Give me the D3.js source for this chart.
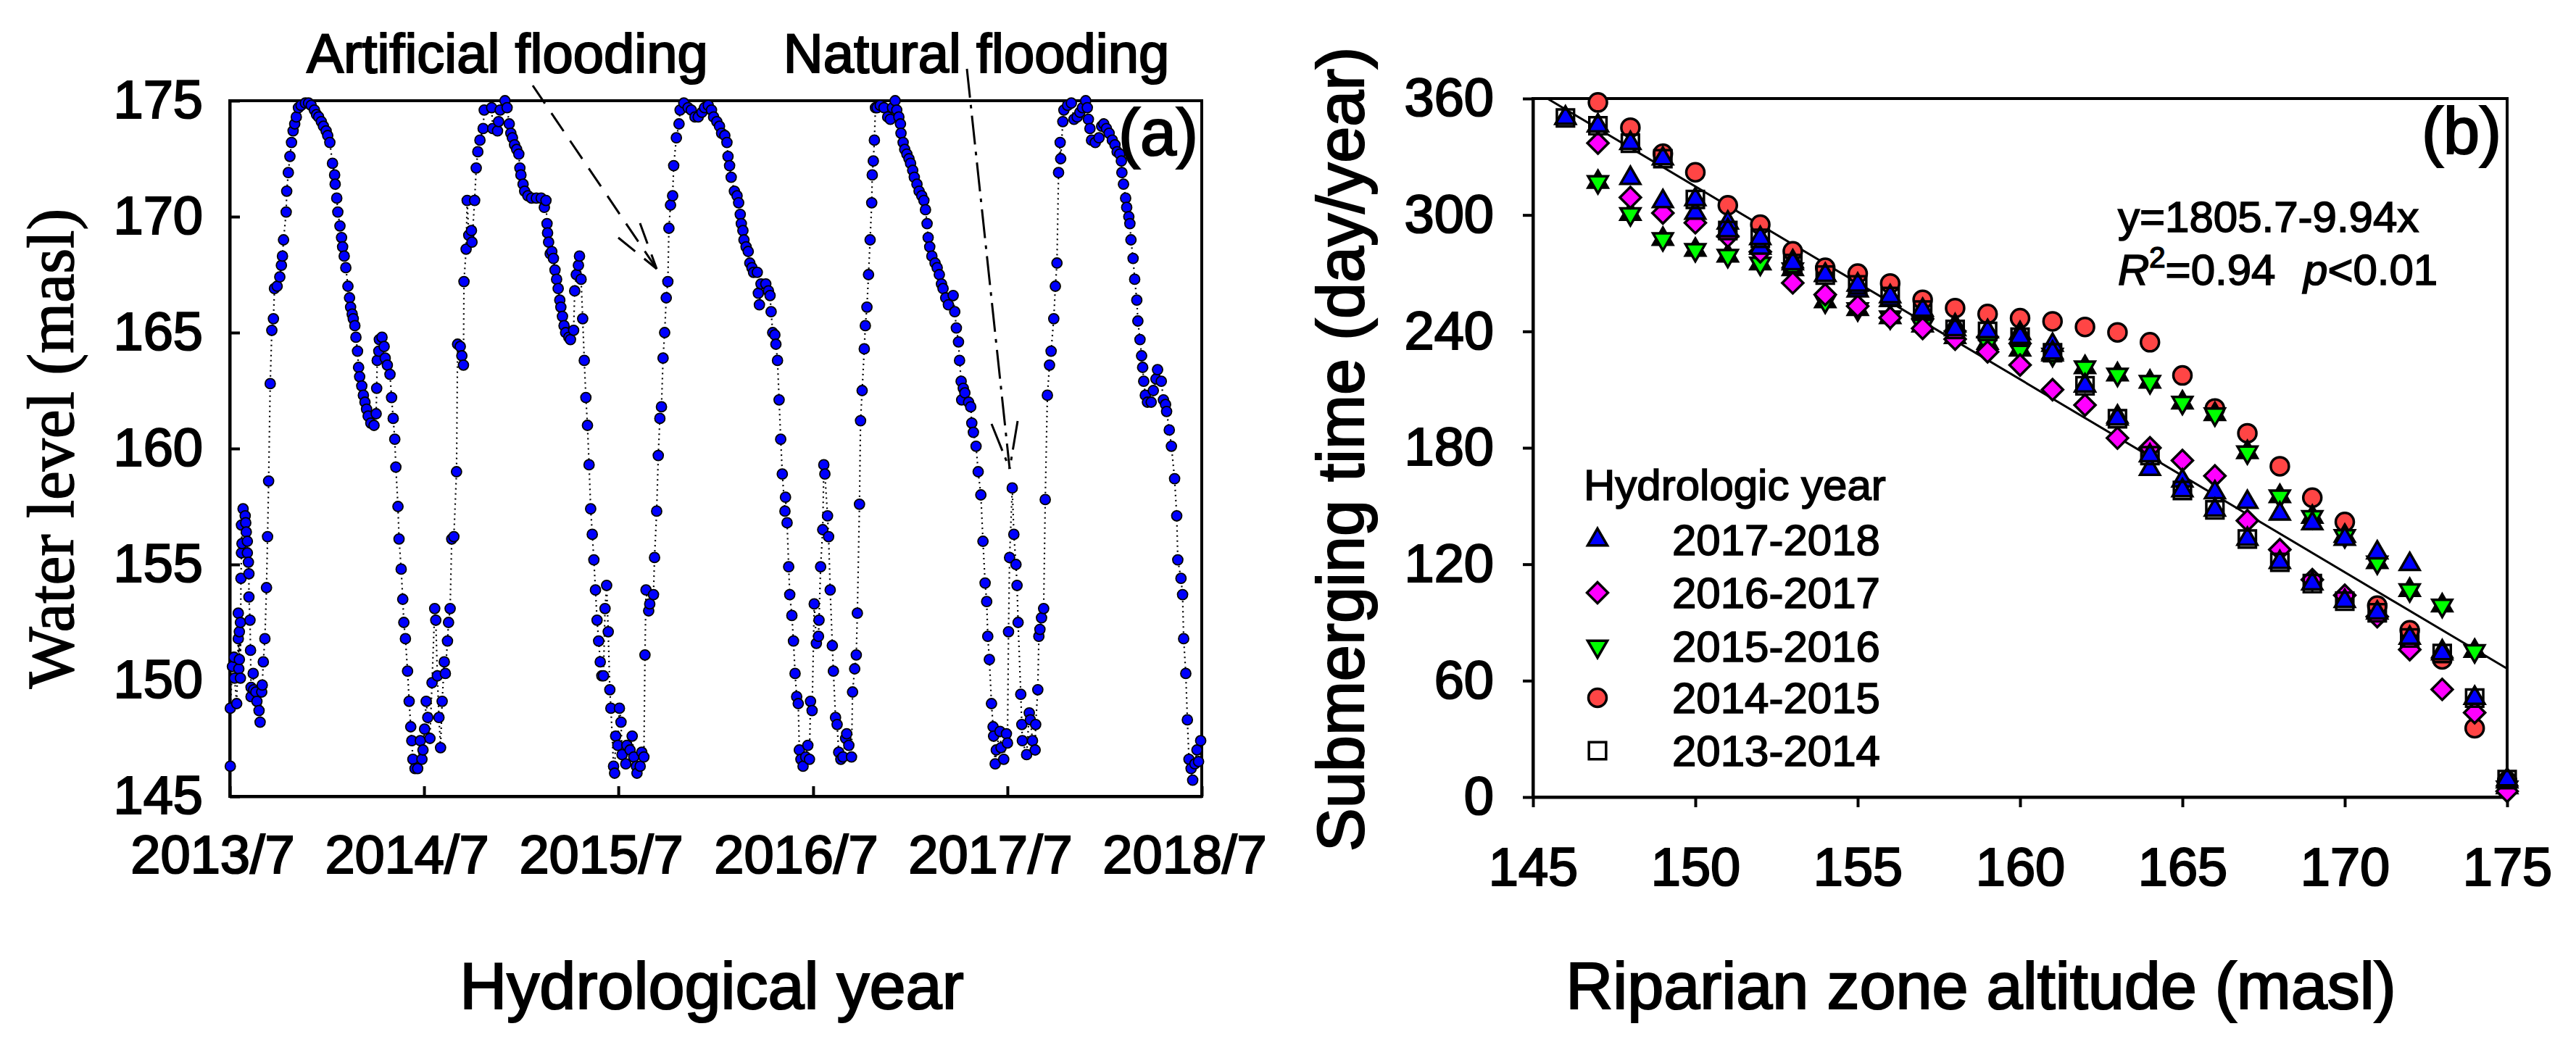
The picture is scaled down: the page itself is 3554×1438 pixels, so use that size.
<!DOCTYPE html>
<html>
<head>
<meta charset="utf-8">
<script src="https://cdn.jsdelivr.net/npm/d3@7"></script>
<style>
  body { margin: 0; background: #fff; }
  svg { display: block; }
  text { font-family: "Liberation Sans", Arial, sans-serif; fill: #000; stroke: #000; stroke-width: 2.2px; }
</style>
</head>
<body>
<svg width="3554" height="1438"></svg>
<script>
//panel (a): [days after 2013/7/1, water level (masl)]
var waterLevel = [
  [1,146.3],[1,148.8],[5,150.6],[8,151.0],[13,149.0],[9,150.1],[17,150.5],[16,151.8],[18,152.1],[16,152.9],
  [20,152.5],[18,150.9],[20,150.1],[21,154.4],[22,155.5],[23,155.9],[22,156.7],[25,157.4],[29,157.1],[30,156.8],
  [31,156.4],[33,156.0],[33,155.5],[35,155.1],[36,154.6],[36,153.6],[38,152.6],[39,151.3],[44,150.3],[40,149.7],
  [45,149.6],[40,149.3],[49,149.5],[51,149.1],[55,148.7],[57,148.2],[60,149.5],[61,149.8],[63,150.8],[66,151.8],
  [69,154.0],[71,156.2],[73,158.6],[76,162.8],[79,165.1],[82,165.6],[84,166.9],[89,167.0],[94,167.4],[97,167.9],
  [99,168.3],[101,169.0],[106,170.2],[107,171.1],[110,171.9],[113,172.6],[116,173.2],[119,173.7],[122,174.0],[125,174.3],
  [129,174.7],[134,174.8],[142,174.9],[148,174.9],[153,174.8],[159,174.6],[163,174.4],[167,174.3],[172,174.1],[176,173.9],
  [181,173.7],[184,173.5],[188,173.2],[193,172.3],[197,171.8],[198,171.4],[201,170.8],[203,170.2],[207,169.6],[210,169.1],
  [212,168.7],[215,168.3],[218,167.8],[222,167.0],[225,166.5],[227,166.1],[230,165.8],[232,165.6],[235,165.3],[237,164.8],
  [240,164.2],[242,163.5],[244,163.1],[248,162.7],[251,162.3],[254,162.0],[257,161.7],[260,161.4],[265,161.1],[271,161.0],
  [275,161.5],[276,162.6],[277,163.8],[280,164.2],[281,164.7],[286,164.8],[290,164.4],[292,163.9],[296,163.6],[301,163.2],
  [304,162.2],[307,161.3],[310,160.4],[312,159.2],[316,157.5],[318,156.1],[322,154.8],[325,153.5],[327,152.5],[330,151.8],
  [334,150.4],[337,149.1],[340,148.0],[342,147.4],[344,146.6],[348,146.2],[353,146.2],[358,147.4],[361,146.6],[363,147.0],
  [369,149.1],[372,148.4],[376,147.5],[366,147.9],[380,149.9],[385,153.1],[387,152.6],[390,150.2],[393,148.4],[396,147.1],
  [399,149.1],[403,150.8],[405,150.3],[409,151.7],[411,152.5],[414,153.1],[417,156.1],[421,156.2],[426,159.0],[428,164.5],
  [433,164.4],[436,164.0],[439,163.6],[440,167.2],[444,168.6],[449,169.2],[454,169.4],[455,168.9],[446,170.7],[460,170.7],
  [463,172.1],[466,172.8],[470,173.3],[476,173.8],[478,174.6],[492,174.7],[494,173.8],[503,173.7],[505,174.1],[508,174.6],
  [517,175.0],[521,174.7],[525,174.0],[528,173.6],[531,173.4],[535,173.1],[539,172.9],[543,172.7],[545,172.1],[547,171.8],
  [551,171.4],[554,171.1],[560,170.9],[567,170.8],[576,170.8],[585,170.8],[594,170.7],[591,170.4],[596,169.7],[597,169.3],
  [599,168.9],[602,168.4],
  [605,168.5],[608,168.2],[611,167.7],[614,167.3],[617,166.9],[620,166.4],[622,166.1],[625,165.7],[628,165.3],[631,165.0],
  [637,164.8],[640,164.7],[646,165.1],[648,166.8],[651,167.5],[655,167.9],[657,168.3],[660,167.3],[663,165.6],[666,163.8],
  [669,162.2],[672,161.0],[675,159.3],[678,157.4],[681,156.3],[684,155.2],[687,153.9],[690,152.6],[693,151.7],[696,150.8],
  [699,150.2],[702,150.2],[705,153.1],[708,154.1],[711,152.1],[714,149.6],[716,148.8],[721,146.3],[723,146.0],[725,147.6],
  [729,147.2],[732,148.8],[735,148.2],[737,146.8],[744,146.4],[746,147.2],[752,147.0],[756,147.6],[759,146.7],[764,146.3],
  [765,146.0],[771,146.3],[774,146.9],[778,146.7],[780,151.1],[782,153.9],[787,153.0],[789,153.3],[796,153.7],[798,155.3],
  [802,157.3],[805,159.7],[808,161.3],[811,161.8],[814,163.9],[817,165.0],[820,166.5],[823,167.2],[825,169.5],[828,170.5],
  [832,170.9],[834,172.2],[839,173.4],[844,174.0],[846,174.6],[853,174.9],[861,174.7],[867,174.6],[874,174.3],[880,174.3],
  [887,174.5],[892,174.7],[899,174.8],[905,174.6],[909,174.3],[915,174.1],[920,173.9],[924,173.6],[930,173.5],[934,173.2],
  [936,172.6],[939,172.2],[942,171.7],[948,171.1],[953,170.9],[956,170.6],[959,170.1],[961,169.7],[964,169.4],[966,169.0],
  [970,168.7],[974,168.5],[977,168.0],[981,167.8],[984,167.6],[991,167.6],[993,166.7],[995,166.2],[998,167.1],[1007,167.1],
  [1012,166.8],[1015,166.6],[1017,165.9],[1020,165.0],[1024,164.9],[1026,164.5],[1029,163.8],[1032,162.1],[1035,160.4],[1038,158.9],
  [1043,157.3],[1044,157.9],[1047,156.8],[1050,154.9],[1052,153.7],[1056,152.8],[1059,151.7],[1062,150.3],[1065,149.3],[1068,149.0],
  [1070,147.0],[1073,146.6],[1077,146.3],[1082,146.7],[1086,147.2],[1089,146.6],[1091,149.1],[1094,148.7],[1098,153.3],[1102,151.6],
  [1106,151.9],[1107,152.6],[1110,154.9],[1114,156.5],[1116,159.3],[1118,158.9],[1123,157.1],[1125,156.2],[1128,153.9],[1132,151.5],
  [1134,150.4],[1138,148.4],[1141,148.1],[1144,146.9],[1148,146.6],[1152,146.7],[1157,147.5],[1159,147.7],[1163,147.2],[1168,146.7],
  [1170,149.5],[1174,150.5],[1177,151.1],[1179,152.9],[1183,157.6],[1185,161.2],[1188,162.5],[1192,164.3],[1194,165.3],[1197,166.1],
  [1200,167.5],[1203,169.0],[1206,170.6],[1207,171.8],[1209,172.4],[1211,173.3],[1213,174.7],
  [1216,174.7],[1222,174.8],[1229,174.7],[1236,174.3],[1241,174.2],[1245,174.7],[1250,175.0],[1253,174.6],[1257,174.3],[1260,174.0],
  [1261,173.6],[1265,173.2],[1268,172.9],[1272,172.7],[1276,172.5],[1279,172.3],[1283,172.0],[1286,171.7],[1291,171.4],[1295,171.1],
  [1300,170.9],[1304,170.7],[1307,170.3],[1310,169.7],[1312,169.1],[1315,168.7],[1319,168.3],[1325,168.0],[1329,167.8],[1333,167.5],
  [1337,167.1],[1340,166.9],[1345,166.5],[1350,166.2],[1359,166.6],[1362,165.9],[1365,165.2],[1369,164.6],[1371,163.8],[1374,162.9],
  [1378,162.6],[1381,162.4],[1375,162.1],[1388,162.0],[1392,161.8],[1394,161.1],[1397,160.7],[1402,160.1],[1406,159.0],[1411,158.0],
  [1415,156.0],[1419,154.2],[1422,153.4],[1424,151.9],[1427,150.9],[1431,149.0],[1434,148.0],[1435,147.6],[1440,147.0],[1438,146.4],
  [1447,147.8],[1449,147.1],[1454,146.6],[1459,147.7],[1461,147.3],[1463,152.1],[1465,155.3],[1470,158.3],[1473,156.3],[1477,155.0],
  [1479,154.1],[1481,152.5],[1486,149.4],[1488,148.1],[1489,147.4],[1497,146.8],[1502,148.6],[1504,148.3],[1508,147.4],[1514,148.1],
  [1513,147.0],[1518,149.6],[1520,151.9],[1522,152.2],[1525,152.7],[1529,153.1],[1532,157.8],[1536,162.3],[1540,163.6],[1543,164.2],
  [1548,165.6],[1551,167.0],[1554,168.0],[1557,171.9],[1560,173.2],[1561,172.5],[1565,174.1],[1567,174.6],[1574,174.8],[1581,174.9],
  [1586,174.2],[1592,174.3],[1597,174.5],[1602,174.7],[1608,175.0],[1611,174.7],[1613,174.2],[1616,173.8],[1619,173.3],[1626,173.2],
  [1633,173.4],[1638,173.9],[1642,174.0],[1647,173.8],[1652,173.6],[1658,173.3],[1663,173.1],[1667,172.8],[1672,172.7],[1675,172.4],
  [1676,171.9],[1679,171.4],[1683,170.8],[1685,170.4],[1689,170.0],[1691,169.7],[1693,169.0],[1697,168.2],[1700,167.3],[1704,166.4],
  [1706,165.5],[1710,164.7],[1713,164.0],[1715,163.5],[1717,162.9],[1720,162.3],[1724,162.0],[1731,162.0],[1735,162.5],[1740,163.0],
  [1743,163.4],[1750,162.9],[1754,162.1],[1758,161.9],[1760,161.6],[1765,160.8],[1769,160.1],[1775,158.7],[1779,157.1],[1781,155.2],
  [1787,154.4],[1790,153.7],[1792,151.8],[1796,150.3],[1799,148.3],[1802,146.6],[1806,146.2],[1809,145.7],[1813,146.4],[1817,147.0],
  [1820,146.5],[1824,147.4]
];
var levelTicks = [145, 150, 155, 160, 165, 170, 175];
var yearTicks = [2013, 2014, 2015, 2016, 2017, 2018];

//panel (b): submerging time (day/year) by altitude
var altitudes = [146,147,148,149,150,151,152,153,154,155,156,157,158,159,160,
                 161,162,163,164,165,166,167,168,169,170,171,172,173,174,175];
var sub1718 = [350,346,319,307,301,296,283,276,269,261,256,250,243,240,239,
               233,212,196,169,163,157,152,146,141,133,126,120,75,51,8];
var sub1617 = [null,337,309,301,296,289,281,265,259,253,247,241.5,236,229.5,222.7,
               210,202,185,180,173.5,165.5,142.5,127.5,112,104,93,76,55.5,43.5,3];
var sub1516 = [null,317,300.5,287.6,282,279,275,272,255.5,251.5,247.3,243,237,234,230.5,
               228,221.5,217.8,214,203.3,197.3,177.7,155,144.4,134.6,121,106.7,98.7,75.3,5];
var sub1415 = [null,358,345,331.6,322,305,295,281.3,272.8,269.8,264.7,256.3,252,249,246.8,
               245.2,242.3,239.5,234.4,217.3,200.3,187.5,170.5,154.3,141.8,98.7,86,71,35.5,8.2];
var sub1314 = [350,346,337,329,308,292,288,275,269,264,258,251,241,240,237,
               229,212,195,176,158,148,133,121,110,101,95,82,74,51,9];
var yearNames = ['2017-2018', '2016-2017', '2015-2016', '2014-2015', '2013-2014'];
var altTicks = [145, 150, 155, 160, 165, 170, 175];
var dayTicks = [0, 60, 120, 180, 240, 300, 360];
var fitIntercept = 1805.7, fitSlope = -9.94;

var svg = d3.select('svg');
svg.append('rect').attr('width', 3554).attr('height', 1438).attr('fill', '#fff');

function styleAxis(g, size) {
  g.attr('font-size', size).attr('font-family', '"Liberation Sans", Arial, sans-serif');
  g.selectAll('.domain').attr('stroke-width', 4);
  g.selectAll('.tick line').attr('stroke-width', 4);
}

// ---------- panel (a) ----------
var start = new Date(2013, 6, 1);
var xA = d3.scaleTime().domain([start, new Date(2018, 6, 1)]).range([317, 1658]);
var yA = d3.scaleLinear().domain([145, 175]).range([1099, 139]);
var gA = svg.append('g');

gA.append('g').attr('transform', 'translate(0,1099)')
  .call(d3.axisBottom(xA)
    .tickValues(yearTicks.map(y => new Date(y, 6, 1)))
    .tickFormat(d3.timeFormat('%Y/%-m'))
    .tickSize(-14).tickSizeOuter(0))
  .call(g => styleAxis(g, 74))
  .call(g => g.selectAll('text').attr('y', 106).attr('dy', null).attr('dx', -24));

gA.append('g').attr('transform', 'translate(317,0)')
  .call(d3.axisLeft(yA).tickValues(levelTicks).tickSize(-14).tickSizeOuter(0).tickPadding(37))
  .call(g => styleAxis(g, 74));

gA.append('rect').attr('x', 317).attr('y', 139).attr('width', 1341).attr('height', 960)
  .attr('fill', 'none').attr('stroke', '#000').attr('stroke-width', 4);

var pts = waterLevel.map(d => ({ date: d3.timeDay.offset(start, d[0]), v: d[1] }))
  .sort((a, b) => a.date - b.date);

gA.append('path').datum(pts)
  .attr('d', d3.line().x(d => xA(d.date)).y(d => yA(d.v)))
  .attr('fill', 'none').attr('stroke', '#000').attr('stroke-width', 2.2)
  .attr('stroke-dasharray', '2,5');

gA.selectAll('circle.lv').data(pts).enter().append('circle')
  .attr('class', 'lv')
  .attr('cx', d => xA(d.date)).attr('cy', d => yA(d.v)).attr('r', 7)
  .attr('fill', '#0000ff').attr('stroke', '#000').attr('stroke-width', 1.8);

// annotations
gA.append('text').attr('x', 700).attr('y', 100).attr('text-anchor', 'middle')
  .attr('font-size', 76).text('Artificial flooding');
gA.append('text').attr('x', 1347).attr('y', 100).attr('text-anchor', 'middle')
  .attr('font-size', 76).text('Natural flooding');

function arrow(g, from, tip, wings, dash) {
  g.append('path').attr('d', 'M' + from + 'L' + tip).attr('fill', 'none')
    .attr('stroke', '#000').attr('stroke-width', 3).attr('stroke-dasharray', dash);
  wings.forEach(w => {
    g.append('path').attr('d', 'M' + w + 'L' + tip).attr('fill', 'none')
      .attr('stroke', '#000').attr('stroke-width', 3).attr('stroke-dasharray', dash);
  });
}
arrow(gA, [735, 118], [906, 371], [[883, 308], [853, 328]], '30,16');
arrow(gA, [1334, 95], [1393, 647], [[1368, 585], [1404, 581]], '40,10,5,10');

gA.append('text').attr('x', 1653).attr('y', 214).attr('text-anchor', 'end')
  .attr('font-size', 90).text('(a)');

gA.append('text').attr('transform', 'translate(101,619) rotate(-90)')
  .attr('text-anchor', 'middle').attr('font-size', 90)
  .style('font-family', '"Liberation Serif", "Times New Roman", serif')
  .style('stroke-width', '1.5px')
  .text('Water level (masl)');
gA.append('text').attr('x', 982).attr('y', 1392).attr('text-anchor', 'middle')
  .attr('font-size', 90).text('Hydrological year');

// ---------- panel (b) ----------
var xB = d3.scaleLinear().domain([145, 175]).range([2115, 3459]);
var yB = d3.scaleLinear().domain([0, 360]).range([1100, 136]);
var gB = svg.append('g');

gB.append('g').attr('transform', 'translate(0,1100)')
  .call(d3.axisBottom(xB).tickValues(altTicks).tickSize(14).tickSizeOuter(0))
  .call(g => styleAxis(g, 74))
  .call(g => g.selectAll('text').attr('y', 122).attr('dy', null));

gB.append('g').attr('transform', 'translate(2115,0)')
  .call(d3.axisLeft(yB).tickValues(dayTicks).tickSize(14).tickSizeOuter(0).tickPadding(40))
  .call(g => styleAxis(g, 74));

gB.append('rect').attr('x', 2115).attr('y', 136).attr('width', 1344).attr('height', 964)
  .attr('fill', 'none').attr('stroke', '#000').attr('stroke-width', 4);

// regression line
var fitX0 = (360 - fitIntercept) / fitSlope;
gB.append('path').datum([fitX0, 175])
  .attr('d', d3.line().x(d => xB(d)).y(d => yB(fitIntercept + fitSlope * d)))
  .attr('stroke', '#000').attr('stroke-width', 3).attr('fill', 'none');

var triUp = d3.symbol().type(d3.symbolTriangle).size(320)();
var square = d3.symbol().type(d3.symbolSquare).size(560)();
var diamond = d3.symbol().type(d3.symbolSquare).size(420)();

var marks = {
  tri: g => g.append('path').attr('d', triUp).attr('fill', '#0000ff'),
  dia: g => g.append('path').attr('d', diamond).attr('transform', 'rotate(45)').attr('fill', '#ff00ff'),
  down: g => g.append('path').attr('d', triUp).attr('transform', 'rotate(180)').attr('fill', '#00ff00'),
  star: g => {
    g.append('path').attr('d', triUp).attr('fill', '#000');
    g.append('path').attr('d', triUp).attr('transform', 'rotate(180)').attr('fill', '#00ff00');
  },
  circ: g => g.append('circle').attr('r', 12.5).attr('fill', '#ff4545'),
  sq: g => g.append('path').attr('d', square).attr('fill', 'none'),
  sqTri: g => {
    g.append('path').attr('d', triUp).attr('fill', '#0000ff');
    g.append('path').attr('d', square).attr('fill', 'none');
  }
};

var plotted = [
  { values: sub1415, mark: 'circ' },
  { values: sub1516, mark: 'star' },
  { values: sub1617, mark: 'dia' },
  { values: sub1718, mark: 'tri' },
  { values: sub1314, mark: 'sqTri' }
];

plotted.forEach(s => {
  var data = altitudes.map((a, i) => ({ a: a, v: s.values[i] })).filter(d => d.v != null);
  gB.append('g').selectAll('g').data(data).enter().append('g')
    .attr('transform', d => 'translate(' + xB(d.a) + ',' + yB(d.v) + ')')
    .each(function () { marks[s.mark](d3.select(this)); })
    .selectAll('*').attr('stroke', '#000').attr('stroke-width', 3.5);
});

// legend
gB.append('text').attr('x', 2185).attr('y', 690).attr('font-size', 60).style('stroke-width', '1.6px')
  .text('Hydrologic year');
var legendMarks = ['tri', 'dia', 'down', 'circ', 'sq'];
var legendY = [745, 818, 892, 963, 1036];
yearNames.forEach((name, i) => {
  var g = gB.append('g').attr('transform', 'translate(2204,' + legendY[i] + ')');
  marks[legendMarks[i]](g);
  g.selectAll('*').attr('stroke', '#000').attr('stroke-width', 3.5);
  gB.append('text').attr('x', 2307).attr('y', legendY[i] + 21).attr('font-size', 60)
    .style('stroke-width', '1.6px').text(name);
});

// equation
gB.append('text').attr('x', 2922).attr('y', 320).attr('font-size', 60).style('stroke-width', '1.6px')
  .text('y=1805.7-9.94x');
var eq = gB.append('text').attr('x', 2922).attr('y', 393).attr('font-size', 60).style('stroke-width', '1.6px');
eq.append('tspan').attr('font-style', 'italic').text('R');
eq.append('tspan').attr('font-size', 40).attr('dy', -24).text('2');
eq.append('tspan').attr('dy', 24).text('=0.94');
eq.append('tspan').attr('x', 3178).attr('font-style', 'italic').text('p');
eq.append('tspan').text('<0.01');

gB.append('text').attr('x', 3451).attr('y', 212).attr('text-anchor', 'end')
  .attr('font-size', 90).text('(b)');

gB.append('text').attr('transform', 'translate(1881,620) rotate(-90)')
  .attr('text-anchor', 'middle').attr('font-size', 90).text('Submerging time (day/year)');
gB.append('text').attr('x', 2733).attr('y', 1392).attr('text-anchor', 'middle')
  .attr('font-size', 90).text('Riparian zone altitude (masl)');
</script>
</body>
</html>
